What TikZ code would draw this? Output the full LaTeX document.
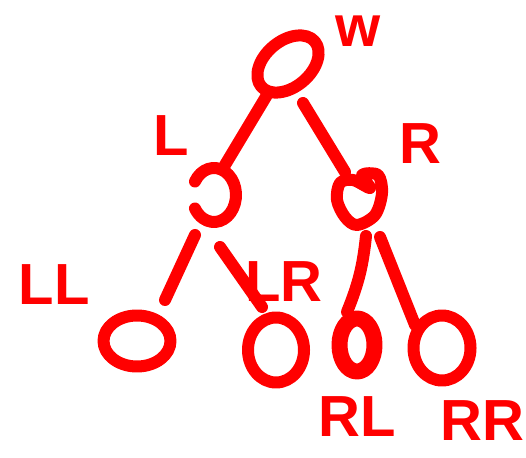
\documentclass[tikz,border=0pt]{standalone}
\usepackage{fontspec}
\setmainfont{Liberation Sans}
\usetikzlibrary{shapes.geometric,calc}
\definecolor{ink}{RGB}{255,0,0}
\begin{document}
\begin{tikzpicture}[x=1pt,y=1pt,
  stroke/.style={draw=ink, line width=12pt, line cap=round, line join=round},
  treenode/.style={ellipse, stroke, inner sep=0pt, outer sep=0pt},
  anchornode/.style={ellipse, inner sep=0pt, outer sep=0pt},
  edge/.style={stroke},
  lbl/.style={text=ink, font=\fontsize{58}{58}\selectfont\bfseries, inner sep=0pt}]
\useasboundingbox (0,0) rectangle (526,457);
% nodes
\node[treenode, minimum width=70, minimum height=46, rotate=40] (root) at (288,393) {};
\node[anchornode, minimum width=44, minimum height=54] (L) at (214,262) {};
\draw[stroke] ([shift={(150:22 and 27)}]L.center) arc[start angle=150, end angle=-150, x radius=22, y radius=27];
\node[anchornode, minimum width=44, minimum height=50] (R) at (360,257) {};
\draw[stroke, shift={(R.center)}] plot[smooth cycle, tension=0.55] coordinates {(10,12) (-7,20) (-20,17) (-23,0) (-15,-17) (-3,-25) (15,-15) (22,7) (18,25) (2,25)};
\node[treenode, minimum width=67, minimum height=51] (LL) at (137,116) {};
\node[treenode, minimum width=56, minimum height=65] (LR) at (276,107) {};
\node[treenode, minimum width=35, minimum height=53, line width=16pt] (RL) at (357,112) {};
\node[treenode, minimum width=57, minimum height=65] (RR) at (442,109) {};
% edges
\draw[edge] ($(root.center)+(-21,-31)$) -- ($(L.center)+(11,30)$);
\draw[edge] ($(root.center)+(15,-39)$) -- ($(R.center)+(-15,28)$);
\draw[edge] ($(L.center)+(-19,-40)$) -- ($(LL.center)+(28,41)$);
\draw[edge] ($(L.center)+(6,-52)$) -- ($(LR.center)+(-14,43)$);
\draw[edge] ($(R.center)+(6,-36)$) to[bend left=8] ($(RL.center)+(-10,33)$);
\draw[edge] ($(R.center)+(20,-37)$) -- ($(RR.center)+(-27,23)$);
% labels
\node[lbl] (lw) at (358,426) {w};
\node[lbl] (lL) at (171,321) {L};
\node[lbl] (lR) at (420,313) {R};
\node[lbl] (lLL) at (54,172) {LL};
\node[lbl] (lLR) at (284,175) {LR};
\node[lbl] (lRL) at (357,40) {RL};
\node[lbl] (lRR) at (482,36) {RR};
\end{tikzpicture}
\end{document}
